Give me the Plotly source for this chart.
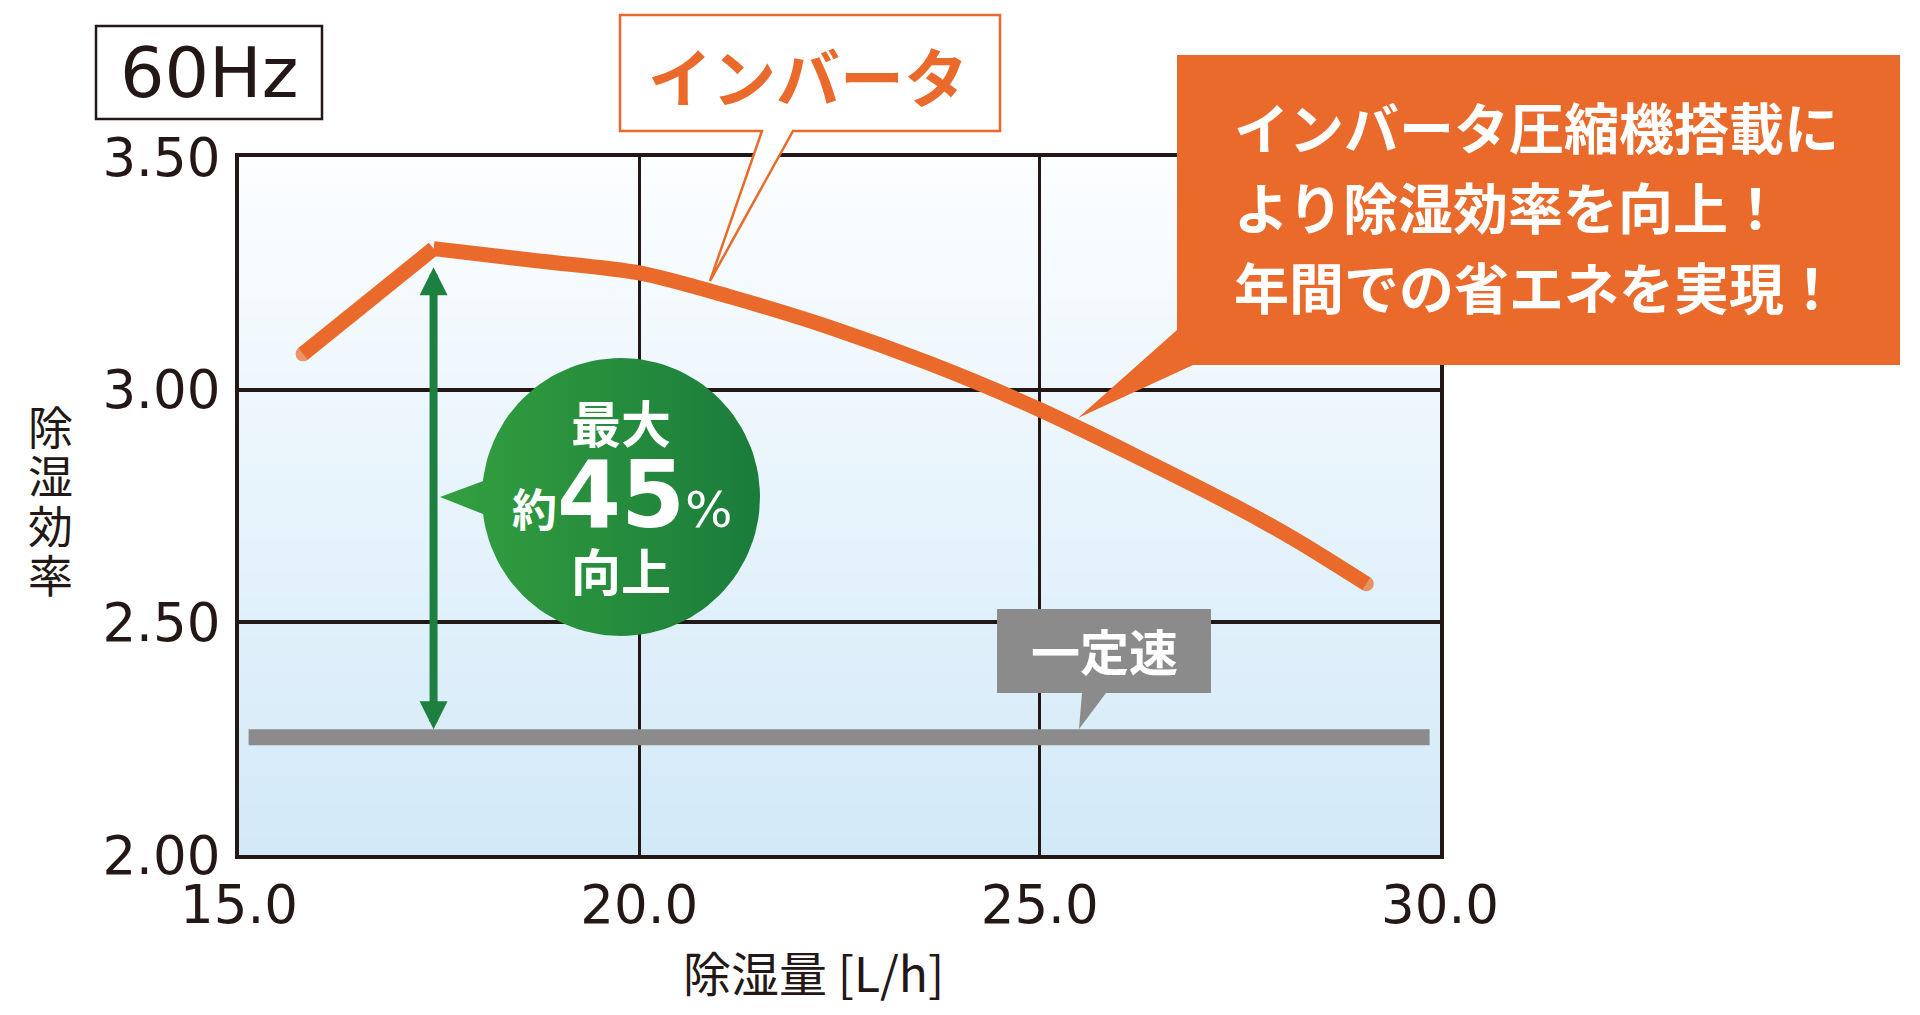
import base64
import struct
import zlib

import numpy as np
import plotly.graph_objects as go

# values
inverter_x = [15.8, 17.43, 18.72, 20.0, 21.13, 22.38, 23.63, 25.0, 27.38, 28.21, 29.08]
inverter_y = [3.077, 3.303, 3.277, 3.251, 3.200, 3.134, 3.056, 2.957, 2.755, 2.676, 2.583]
constant_x = [15.12, 29.87]
constant_y = [2.253, 2.253]

x_ticks = [15, 20, 25, 30]
x_labels = ['15.0', '20.0', '25.0', '30.0']
y_ticks = [2.0, 2.5, 3.0, 3.5]
y_labels = ['2.00', '2.50', '3.00', '3.50']

callout_lines = ['インバータ圧縮機搭載に', 'より除湿効率を向上！', '年間での省エネを実現！']
y_title_chars = ['除', '湿', '効', '率']

INK = '#231815'
ORANGE = '#EA6A2B'
GRAY = '#8b8b8b'
JP = 'Noto Sans CJK JP'
NUM = 'DejaVu Sans'

W, H = 1920, 1015
PLOT_L, PLOT_R, PLOT_T, PLOT_B = 239, 1440, 157, 855
PLOT_W, PLOT_H = PLOT_R - PLOT_L, PLOT_B - PLOT_T


def px(x):
    # pixel -> paper x
    return (x - PLOT_L) / PLOT_W


def py(y):
    # pixel -> paper y
    return (PLOT_B - y) / PLOT_H


def jy(y, size):
    # cjk glyphs sit a little low in their box
    return py(y - 0.04 * size)


def px_to_x(x):
    return x_ticks[0] + (x - PLOT_L) / PLOT_W * (x_ticks[-1] - x_ticks[0])


def py_to_y(y):
    return y_ticks[0] + (PLOT_B - y) / PLOT_H * (y_ticks[-1] - y_ticks[0])


def path(points):
    return 'M ' + ' L '.join(f'{px(a):.5f},{py(b):.5f}' for a, b in points) + ' Z'


def gradient_png(top, bottom, n=256):
    """ 1 x n png with a vertical gradient, returned as data uri """
    raw = b''
    for i in range(n):
        t = i / (n - 1)
        raw += b'\x00' + bytes(round(a + (b - a) * t) for a, b in zip(top, bottom))

    def chunk(tag, data):
        return struct.pack('>I', len(data)) + tag + data + struct.pack('>I', zlib.crc32(tag + data) & 0xffffffff)

    png = (b'\x89PNG\r\n\x1a\n'
           + chunk(b'IHDR', struct.pack('>IIBBBBB', 1, n, 8, 2, 0, 0, 0))
           + chunk(b'IDAT', zlib.compress(raw))
           + chunk(b'IEND', b''))
    return 'data:image/png;base64,' + base64.b64encode(png).decode()


fig = go.Figure()

# green bubble (circle + pointer) with a left-to-right gradient
cx, cy, r = 621, 497, 139
t = np.linspace(0, 2 * np.pi, 121)
green = dict(type='horizontal', start=px_to_x(440), stop=px_to_x(cx + r),
             colorscale=[[0, '#33a03f'], [1, '#1b7c3b']])
fig.add_trace(go.Scatter(x=[px_to_x(v) for v in cx + r * np.cos(t)],
                         y=[py_to_y(v) for v in cy + r * np.sin(t)],
                         mode='lines', line=dict(width=0), fill='toself',
                         fillgradient=green, hoverinfo='skip', showlegend=False))
fig.add_trace(go.Scatter(x=[px_to_x(v) for v in [440, 486, 488]],
                         y=[py_to_y(v) for v in [497, 480, 516]],
                         mode='lines', line=dict(width=0), fill='toself',
                         fillgradient=green, hoverinfo='skip', showlegend=False))

# constant speed line
fig.add_trace(go.Scatter(x=constant_x, y=constant_y, mode='lines',
                         line=dict(color=GRAY, width=16), hoverinfo='skip', showlegend=False))

# inverter line: straight rise to the peak, smooth fall after it
fig.add_trace(go.Scatter(x=inverter_x[:2], y=inverter_y[:2], mode='lines+markers',
                         line=dict(color=ORANGE, width=15),
                         marker=dict(color=ORANGE, size=[15, 0], line=dict(width=0)),
                         hoverinfo='skip', showlegend=False))
end_sizes = [0] * (len(inverter_x) - 2) + [15]
fig.add_trace(go.Scatter(x=inverter_x[1:], y=inverter_y[1:], mode='lines+markers',
                         line=dict(color=ORANGE, width=15, shape='spline', smoothing=0.8),
                         marker=dict(color=ORANGE, size=end_sizes, line=dict(width=0)),
                         hoverinfo='skip', showlegend=False))

shapes = [
    # 60Hz box
    dict(type='rect', xref='paper', yref='paper', x0=px(96), x1=px(322), y0=py(26), y1=py(119),
         line=dict(color=INK, width=2.5), fillcolor='white'),
    # インバータ label with pointer
    dict(type='path', xref='paper', yref='paper',
         path=path([(620, 15), (1000, 15), (1000, 131), (793, 131), (710, 281), (762, 131), (620, 131)]),
         line=dict(color=ORANGE, width=2.5), fillcolor='white'),
    # orange callout
    dict(type='path', xref='paper', yref='paper',
         path=path([(1177, 55), (1900, 55), (1900, 365), (1193, 365), (1078, 418), (1177, 330)]),
         line=dict(width=0), fillcolor=ORANGE),
    # 一定速 label
    dict(type='path', xref='paper', yref='paper',
         path=path([(997, 609), (1211, 609), (1211, 693), (1106, 693), (1079, 729), (1082, 693), (997, 693)]),
         line=dict(width=0), fillcolor=GRAY),
]

y_title = '<br>'.join(f'<span style="font-size:45px">{c}</span>' for c in y_title_chars)

annotations = [
    dict(x=px(209), y=py(73), text='60Hz', font=dict(family=NUM, size=70, color=INK)),
    dict(x=px(808), y=jy(77, 64), text='インバータ', font=dict(family=JP, size=64, color=ORANGE, weight='bold')),
    dict(x=px(1104), y=jy(651, 49), text='一定速', font=dict(family=JP, size=49, color='white', weight='bold')),
    dict(x=px(621), y=jy(423, 50), text='最大', font=dict(family=JP, size=50, color='white', weight='bold')),
    dict(x=px(621), y=jy(571, 50), text='向上', font=dict(family=JP, size=50, color='white', weight='bold')),
    dict(x=px(622), y=jy(497, 45),
         text=('約<span style="font-family:DejaVu Sans;font-size:92px">45</span>'
               '<span style="font-family:DejaVu Sans;font-size:50px;font-weight:normal">%</span>'),
         font=dict(family=JP, size=45, color='white', weight='bold')),
    dict(x=px(813), y=jy(973, 48), text='除湿量 [L/h]', font=dict(family=JP, size=48, color=INK)),
    # vertical title: small base size sets the line pitch, spans set the glyph size
    dict(x=px(50), y=jy(501, 45), text=y_title, font=dict(family=JP, size=38, color=INK)),
]
for i, line in enumerate(callout_lines):
    annotations.append(dict(x=px(1232), y=jy(127 + 80 * i, 55), text=line, xanchor='left',
                            font=dict(family=JP, size=55, color='white', weight='bold')))
for a in annotations:
    a.update(xref='paper', yref='paper', showarrow=False)
    a.setdefault('xanchor', 'center')
    a.setdefault('yanchor', 'middle')

# double headed arrow between the peak and the constant line
annotations.append(dict(x=inverter_x[1], y=constant_y[0], ax=inverter_x[1], ay=inverter_y[1],
                        xref='x', yref='y', axref='x', ayref='y', text='', showarrow=True,
                        arrowside='end+start', arrowhead=2, startarrowhead=2,
                        arrowsize=0.7, startarrowsize=0.7, arrowwidth=8, arrowcolor='#1e8040',
                        standoff=8, startstandoff=17))

fig.update_layout(
    width=W, height=H,
    margin=dict(l=PLOT_L, r=W - PLOT_R, t=PLOT_T, b=H - PLOT_B, pad=0),
    paper_bgcolor='white', plot_bgcolor='rgba(0,0,0,0)',
    shapes=shapes, annotations=annotations,
    images=[dict(source=gradient_png((252, 254, 255), (210, 233, 248)), xref='paper', yref='paper',
                 x=0, y=1, sizex=1, sizey=1, xanchor='left', yanchor='top',
                 sizing='stretch', layer='below')],
)
fig.update_xaxes(range=[x_ticks[0], x_ticks[-1]], tickvals=x_ticks, ticktext=x_labels,
                 showgrid=True, gridcolor=INK, gridwidth=2.5, zeroline=False,
                 showline=True, linecolor=INK, linewidth=4, mirror=True,
                 ticks='', tickfont=dict(family=NUM, size=53, color=INK))
fig.update_yaxes(range=[y_ticks[0], y_ticks[-1]], tickvals=y_ticks, ticktext=y_labels,
                 showgrid=True, gridcolor=INK, gridwidth=4, zeroline=False,
                 showline=True, linecolor=INK, linewidth=4, mirror=True,
                 ticks='outside', ticklen=4, tickcolor='rgba(0,0,0,0)',
                 tickfont=dict(family=NUM, size=53, color=INK))

# drop the default body margin so the figure sits at the page corner
fig.write_html('out.html', config={'displayModeBar': False},
               post_script="document.body.style.margin='0';document.body.style.overflow='hidden';")
